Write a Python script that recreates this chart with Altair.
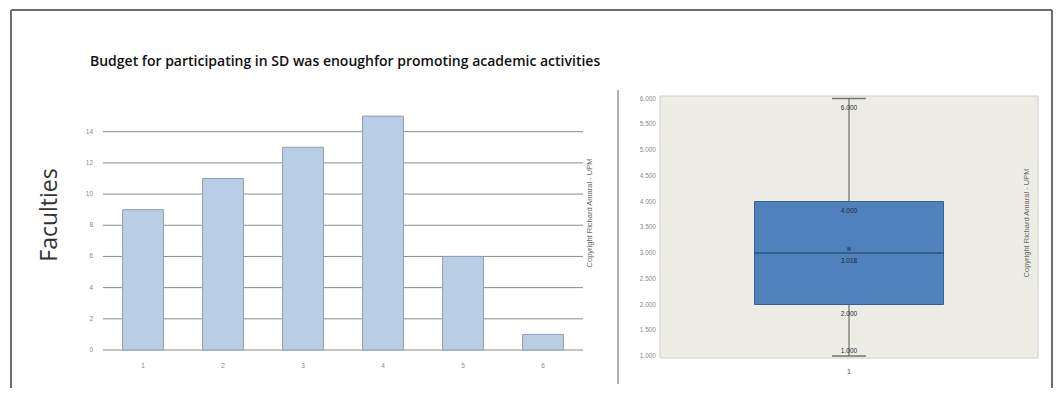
import altair as alt
import pandas as pd

title_text = "Budget for participating in SD was enoughfor promoting academic activities"
y_title = "Faculties"
copyright_text = "Copyright Richard Amaral - UPM"

categories = ["1", "2", "3", "4", "5", "6"]
counts = [9, 11, 13, 15, 6, 1]
bar_ticks = [0, 2, 4, 6, 8, 10, 12, 14]

box_group = ["1"]
box_min = [1.0]
box_q1 = [2.0]
box_median = [3.0]
box_q3 = [4.0]
box_max = [6.0]
box_mean = [3.018]
box_ticks = [1.0, 1.5, 2.0, 2.5, 3.0, 3.5, 4.0, 4.5, 5.0, 5.5, 6.0]
below_label_values = [6.0, 4.0, 3.018, 2.0]
below_label_texts = ["6.000", "4.000", "3.018", "2.000"]
above_label_values = [1.0]
above_label_texts = ["1.000"]

W, H = 1046, 380
one = alt.Data(values=[{"a": 1}])

# ---------------- frame + title ----------------
frame_left = alt.Chart(one).mark_rule(color="#6e6e6e", strokeWidth=2).encode(
    x=alt.value(3), y=alt.value(2), y2=alt.value(H))
frame_top = alt.Chart(one).mark_rule(color="#6e6e6e", strokeWidth=2).encode(
    x=alt.value(3), x2=alt.value(1044), y=alt.value(2))
frame_right = alt.Chart(one).mark_rule(color="#6e6e6e", strokeWidth=2).encode(
    x=alt.value(1044), y=alt.value(2), y2=alt.value(H))
title = alt.Chart(one).mark_text(
    text=title_text, align="left", baseline="middle", font="Open Sans",
    fontSize=14, fontWeight=600, color="#111111").encode(
    x=alt.value(82), y=alt.value(54))

# ---------------- bar chart ----------------
bar_df = pd.DataFrame({"cat": categories, "count": counts})
tick_df = pd.DataFrame({"t": bar_ticks})

bx = alt.X("cat:N", sort=categories, axis=None,
           scale=alt.Scale(range=[95, 575], paddingInner=0.49, paddingOuter=0.245))
by_scale = alt.Scale(domain=[0, 14], range=[342, 123.7], nice=False, zero=False)

grid = alt.Chart(tick_df).mark_rule(color="#8c8c8c", strokeWidth=1).encode(
    x=alt.value(95), x2=alt.value(575),
    y=alt.Y("t:Q", scale=by_scale, axis=None))
ytl = alt.Chart(tick_df).mark_text(
    align="right", baseline="middle", fontSize=6.5, color="#8a8a8a", font="Liberation Sans").encode(
    x=alt.value(85), y=alt.Y("t:Q", scale=by_scale, axis=None), text="t:Q")
bars = alt.Chart(bar_df).mark_bar(
    fill="#b9cde5", stroke="#8b9fb8", strokeWidth=1).encode(
    x=bx, y=alt.Y("count:Q", scale=by_scale, axis=None))
xtl = alt.Chart(bar_df).mark_text(
    baseline="middle", fontSize=6.5, color="#8a8a8a", font="Liberation Sans").encode(
    x=bx, y=alt.value(358), text="cat:N")
ylab = alt.Chart(one).mark_text(
    text=y_title, angle=270, align="center", baseline="middle",
    font="Open Sans", fontSize=23, color="#333333").encode(
    x=alt.value(42), y=alt.value(207))
copy1 = alt.Chart(one).mark_text(
    text=copyright_text, angle=270, align="center", baseline="middle",
    font="Liberation Sans", fontSize=7.5, color="#666666").encode(
    x=alt.value(582), y=alt.value(205))

bar_layer = alt.layer(grid, bars, ytl, xtl, ylab, copy1)

# ---------------- box chart ----------------
box_df = pd.DataFrame({"g": box_group, "min": box_min, "q1": box_q1,
                       "median": box_median, "q3": box_q3, "max": box_max,
                       "mean": box_mean})
bt_df = pd.DataFrame({"t": box_ticks})
below_df = pd.DataFrame({"g": box_group * len(below_label_values),
                         "v": below_label_values, "lab": below_label_texts})
above_df = pd.DataFrame({"g": box_group * len(above_label_values),
                         "v": above_label_values, "lab": above_label_texts})

gx = alt.X("g:N", axis=None,
           scale=alt.Scale(range=[652, 1030], paddingInner=0.5, paddingOuter=0.25))
gy_scale = alt.Scale(domain=[1, 6], range=[348, 90.5], nice=False, zero=False)

bg = alt.Chart(one).mark_rect(fill="#eeede5", stroke="#cfcfcf", strokeWidth=1).encode(
    x=alt.value(652), x2=alt.value(1030), y=alt.value(88), y2=alt.value(350))
axis_line = alt.Chart(one).mark_rule(color="#9a9a9a", strokeWidth=1.5).encode(
    x=alt.value(610), y=alt.value(82), y2=alt.value(376))
gytl = alt.Chart(bt_df).mark_text(
    align="right", baseline="middle", fontSize=6.5, color="#8a8a8a", font="Liberation Sans").encode(
    x=alt.value(648), y=alt.Y("t:Q", scale=gy_scale, axis=None),
    text=alt.Text("t:Q", format=".3f"))
whisker = alt.Chart(box_df).mark_rule(color="#555555", strokeWidth=1).encode(
    x=gx, y=alt.Y("min:Q", scale=gy_scale, axis=None), y2="max:Q")
cap_top = alt.Chart(box_df).mark_tick(color="#444444", size=34, thickness=1.5).encode(
    x=gx, y=alt.Y("max:Q", scale=gy_scale, axis=None))
cap_bot = alt.Chart(box_df).mark_tick(color="#444444", size=34, thickness=1.5).encode(
    x=gx, y=alt.Y("min:Q", scale=gy_scale, axis=None))
box = alt.Chart(box_df).mark_bar(fill="#4f81bd", stroke="#3a5f8e", strokeWidth=1).encode(
    x=gx, y=alt.Y("q3:Q", scale=gy_scale, axis=None), y2="q1:Q")
med = alt.Chart(box_df).mark_bar(fill="#1f3f66", stroke="#1f3f66", strokeWidth=1.2).encode(
    x=gx, y=alt.Y("median:Q", scale=gy_scale, axis=None), y2="median:Q")
mean_pt = alt.Chart(box_df).mark_point(
    shape="cross", angle=45, size=20, filled=True, color="#1f3f66").encode(
    x=gx, y=alt.Y("mean:Q", scale=gy_scale, axis=None), yOffset=alt.value(-3))
lab_below = alt.Chart(below_df).mark_text(
    baseline="middle", dy=9, fontSize=6.5, color="#1a2a40", font="Liberation Sans").encode(
    x=gx, y=alt.Y("v:Q", scale=gy_scale, axis=None), text="lab:N")
lab_above = alt.Chart(above_df).mark_text(
    baseline="middle", dy=-5, fontSize=6.5, color="#1a2a40", font="Liberation Sans").encode(
    x=gx, y=alt.Y("v:Q", scale=gy_scale, axis=None), text="lab:N")
gxtl = alt.Chart(box_df).mark_text(
    baseline="middle", fontSize=7, color="#555555", font="Liberation Sans").encode(
    x=gx, y=alt.value(364), text="g:N")
copy2 = alt.Chart(one).mark_text(
    text=copyright_text, angle=270, align="center", baseline="middle",
    font="Liberation Sans", fontSize=7.5, color="#666666").encode(
    x=alt.value(1019), y=alt.value(215))

box_layer = alt.layer(bg, axis_line, gytl, whisker, cap_top, cap_bot, box, med,
                      mean_pt, lab_below, lab_above, gxtl, copy2)

chart = alt.layer(
    frame_left, frame_top, frame_right, title, bar_layer, box_layer
).resolve_scale(x="independent", y="independent").properties(
    width=W, height=H, autosize=alt.AutoSizeParams(type="none"), padding=0
).configure_view(stroke=None)

chart.save("out.html", embed_options={"renderer": "svg", "actions": False})
